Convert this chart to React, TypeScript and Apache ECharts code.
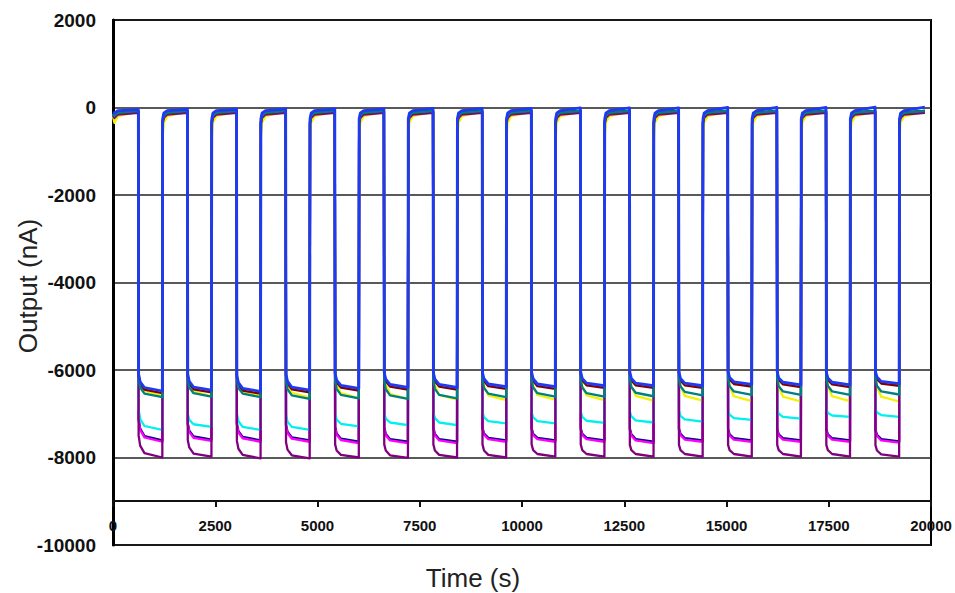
import React, { useEffect, useRef } from 'react';
import * as echarts from 'echarts';

// ---------- data ----------
const X_MIN = 0;
const X_MAX = 20000;
const Y_MIN = -10000;
const Y_MAX = 2000;

// times (s) at which the output drops / rises in each of the 16 cycles
const DROP_TIMES = [619, 1820, 3021, 4222, 5423, 6624, 7825, 9026, 10227, 11428, 12629, 13830, 15031, 16232, 17433, 18634];
const RISE_TIMES = [1206, 2407, 3608, 4809, 6010, 7211, 8412, 9613, 10814, 12015, 13216, 14417, 15618, 16819, 18020, 19221];
const END_TIME = 19850;

// time offsets (s) of the read points inside each phase
const LOW_OFFSETS = [8, 45, 150];
const HIGH_OFFSETS = [8, 35, 120];

const SERIES_NAMES = ['Series 1', 'Series 2', 'Series 3', 'Series 4', 'Series 5', 'Series 6', 'Series 7', 'Series 8'];
const SERIES_COLORS = ['#000080', '#ff00ff', '#f2f200', '#00f0f0', '#800080', '#800000', '#008080', '#1f3af2'];

// value at t = 0
const INIT_VALUES = [-150, -170, -200, -150, -180, -140, -140, -110];
// high phase: [just after rise, ~35 s later, ~120 s later, before next drop]
const HIGH_NAVY = [-330, -190, -120, -80];
const HIGH_MAGENTA = [-360, -220, -150, -110];
const HIGH_YELLOW = [-700, -350, -200, -100];
const HIGH_CYAN = [-340, -200, -130, -90];
const HIGH_PURPLE = [-380, -240, -160, -120];
const HIGH_DARKRED = [-320, -180, -120, -80];
const HIGH_TEAL = [-330, -190, -120, -80];
const HIGH_BLUE = [-260, -130, -70, -30];
const BLUE_HIGH_END = [-50, -40, -40, -30, -30, -30, -20, -20, -20, -10, -10, -10, 0, 0, 0, 10, 10];

// low phase per cycle: just after drop, ~45 s, ~150 s after drop, just before rise
const NAVY_LOW_START = [-7120, -7220, -7220, -7250, -7290, -7310, -7320, -7320, -7330, -7330, -7340, -7340, -7350, -7350, -7350, -7360];
const NAVY_LOW_EARLY = [-7340, -7390, -7400, -7410, -7450, -7460, -7460, -7450, -7460, -7460, -7470, -7460, -7470, -7470, -7470, -7480];
const NAVY_LOW_MID = [-7510, -7520, -7530, -7540, -7570, -7580, -7580, -7550, -7550, -7550, -7580, -7560, -7560, -7560, -7560, -7580];
const NAVY_LOW_END = [-7610, -7590, -7610, -7610, -7640, -7640, -7640, -7610, -7610, -7610, -7640, -7610, -7610, -7610, -7610, -7630];

const MAGENTA_LOW_START = [-7150, -7250, -7250, -7280, -7320, -7340, -7350, -7350, -7360, -7360, -7370, -7370, -7380, -7380, -7380, -7390];
const MAGENTA_LOW_EARLY = [-7370, -7420, -7430, -7440, -7480, -7490, -7490, -7480, -7490, -7490, -7500, -7490, -7500, -7500, -7500, -7510];
const MAGENTA_LOW_MID = [-7540, -7550, -7560, -7570, -7600, -7610, -7610, -7580, -7580, -7580, -7610, -7590, -7590, -7590, -7590, -7610];
const MAGENTA_LOW_END = [-7640, -7620, -7640, -7640, -7670, -7670, -7670, -7640, -7640, -7640, -7670, -7640, -7640, -7640, -7640, -7660];

const YELLOW_LOW_START = [-6050, -6050, -6060, -6060, -6070, -6080, -6080, -6090, -6090, -6090, -6100, -6100, -6100, -6110, -6110, -6110];
const YELLOW_LOW_EARLY = [-6290, -6300, -6300, -6320, -6330, -6340, -6350, -6360, -6360, -6360, -6370, -6370, -6380, -6390, -6380, -6390];
const YELLOW_LOW_MID = [-6480, -6490, -6490, -6520, -6530, -6550, -6570, -6580, -6570, -6580, -6590, -6590, -6600, -6610, -6600, -6610];
const YELLOW_LOW_END = [-6590, -6600, -6600, -6630, -6640, -6660, -6680, -6690, -6680, -6690, -6700, -6700, -6710, -6720, -6710, -6720];

const CYAN_LOW_START = [-6910, -7000, -7000, -7020, -6990, -6980, -6970, -6960, -6960, -6950, -6950, -6940, -6930, -6920, -6900, -6890];
const CYAN_LOW_EARLY = [-7120, -7140, -7170, -7180, -7130, -7110, -7100, -7080, -7080, -7070, -7060, -7050, -7020, -7000, -6980, -6970];
const CYAN_LOW_MID = [-7280, -7240, -7300, -7300, -7230, -7200, -7200, -7170, -7170, -7160, -7150, -7130, -7100, -7070, -7040, -7030];
const CYAN_LOW_END = [-7370, -7300, -7370, -7370, -7290, -7260, -7260, -7220, -7220, -7210, -7200, -7180, -7140, -7110, -7070, -7070];

const PURPLE_LOW_START = [-7500, -7600, -7620, -7650, -7700, -7700, -7700, -7700, -7700, -7700, -7710, -7710, -7710, -7710, -7710, -7720];
const PURPLE_LOW_EARLY = [-7730, -7770, -7800, -7820, -7840, -7840, -7840, -7840, -7830, -7830, -7830, -7830, -7830, -7830, -7830, -7840];
const PURPLE_LOW_MID = [-7900, -7910, -7940, -7950, -7940, -7950, -7940, -7940, -7920, -7920, -7920, -7920, -7920, -7920, -7920, -7930];
const PURPLE_LOW_END = [-8000, -7980, -8020, -8020, -8000, -8010, -8000, -8000, -7980, -7980, -7980, -7980, -7980, -7980, -7980, -7980];

const DARKRED_LOW_START = [-6150, -6150, -6170, -6150, -6130, -6110, -6110, -6110, -6100, -6100, -6100, -6100, -6090, -6090, -6100, -6090];
const DARKRED_LOW_EARLY = [-6320, -6310, -6340, -6310, -6280, -6260, -6260, -6250, -6250, -6240, -6240, -6240, -6220, -6230, -6230, -6210];
const DARKRED_LOW_MID = [-6450, -6440, -6470, -6440, -6400, -6380, -6380, -6370, -6370, -6350, -6350, -6350, -6320, -6330, -6330, -6310];
const DARKRED_LOW_END = [-6530, -6510, -6540, -6510, -6470, -6450, -6450, -6430, -6430, -6410, -6410, -6410, -6380, -6390, -6390, -6360];

const TEAL_LOW_START = [-6220, -6220, -6230, -6250, -6250, -6250, -6240, -6230, -6220, -6220, -6210, -6200, -6200, -6200, -6190, -6190];
const TEAL_LOW_EARLY = [-6400, -6400, -6410, -6440, -6430, -6440, -6430, -6410, -6400, -6400, -6390, -6370, -6370, -6370, -6360, -6360];
const TEAL_LOW_MID = [-6540, -6530, -6540, -6580, -6570, -6580, -6570, -6540, -6530, -6530, -6520, -6500, -6490, -6490, -6490, -6490];
const TEAL_LOW_END = [-6620, -6610, -6620, -6660, -6650, -6660, -6650, -6620, -6610, -6610, -6600, -6580, -6570, -6570, -6570, -6560];

const BLUE_LOW_START = [-6100, -6100, -6120, -6100, -6080, -6060, -6060, -6060, -6050, -6050, -6050, -6050, -6040, -6040, -6050, -6040];
const BLUE_LOW_EARLY = [-6270, -6260, -6290, -6260, -6230, -6210, -6210, -6200, -6200, -6190, -6190, -6190, -6170, -6180, -6180, -6160];
const BLUE_LOW_MID = [-6400, -6390, -6420, -6390, -6350, -6330, -6330, -6320, -6320, -6300, -6300, -6300, -6270, -6280, -6280, -6260];
const BLUE_LOW_END = [-6480, -6460, -6490, -6460, -6420, -6400, -6400, -6380, -6380, -6360, -6360, -6360, -6330, -6340, -6340, -6310];

// ---------- build the polylines from the arrays ----------
function buildPoints(
  init: number,
  lowStart: number[],
  lowEarly: number[],
  lowMid: number[],
  lowEnd: number[],
  high: number[],
  highEnds?: number[]
): [number, number][] {
  const pts: [number, number][] = [];
  pts.push([0, init]);
  pts.push([HIGH_OFFSETS[1], high[1]]);
  pts.push([HIGH_OFFSETS[2], high[2]]);
  for (let k = 0; k < DROP_TIMES.length; k++) {
    const he = highEnds ? highEnds[k] : high[3];
    pts.push([DROP_TIMES[k], he]);
    pts.push([DROP_TIMES[k] + LOW_OFFSETS[0], lowStart[k]]);
    pts.push([DROP_TIMES[k] + LOW_OFFSETS[1], lowEarly[k]]);
    pts.push([DROP_TIMES[k] + LOW_OFFSETS[2], lowMid[k]]);
    pts.push([RISE_TIMES[k], lowEnd[k]]);
    pts.push([RISE_TIMES[k] + HIGH_OFFSETS[0], high[0]]);
    pts.push([RISE_TIMES[k] + HIGH_OFFSETS[1], high[1]]);
    pts.push([RISE_TIMES[k] + HIGH_OFFSETS[2], high[2]]);
  }
  pts.push([END_TIME, highEnds ? highEnds[DROP_TIMES.length] : high[3]]);
  return pts;
}

const SERIES_POINTS = [
  buildPoints(INIT_VALUES[0], NAVY_LOW_START, NAVY_LOW_EARLY, NAVY_LOW_MID, NAVY_LOW_END, HIGH_NAVY),
  buildPoints(INIT_VALUES[1], MAGENTA_LOW_START, MAGENTA_LOW_EARLY, MAGENTA_LOW_MID, MAGENTA_LOW_END, HIGH_MAGENTA),
  buildPoints(INIT_VALUES[2], YELLOW_LOW_START, YELLOW_LOW_EARLY, YELLOW_LOW_MID, YELLOW_LOW_END, HIGH_YELLOW),
  buildPoints(INIT_VALUES[3], CYAN_LOW_START, CYAN_LOW_EARLY, CYAN_LOW_MID, CYAN_LOW_END, HIGH_CYAN),
  buildPoints(INIT_VALUES[4], PURPLE_LOW_START, PURPLE_LOW_EARLY, PURPLE_LOW_MID, PURPLE_LOW_END, HIGH_PURPLE),
  buildPoints(INIT_VALUES[5], DARKRED_LOW_START, DARKRED_LOW_EARLY, DARKRED_LOW_MID, DARKRED_LOW_END, HIGH_DARKRED),
  buildPoints(INIT_VALUES[6], TEAL_LOW_START, TEAL_LOW_EARLY, TEAL_LOW_MID, TEAL_LOW_END, HIGH_TEAL),
  buildPoints(INIT_VALUES[7], BLUE_LOW_START, BLUE_LOW_EARLY, BLUE_LOW_MID, BLUE_LOW_END, HIGH_BLUE, BLUE_HIGH_END),
];

const FONT = '"Liberation Sans", Arial, Helvetica, sans-serif';

export default function App() {
  const ref = useRef<HTMLDivElement>(null);

  useEffect(() => {
    document.body.style.margin = '0';
    if (!ref.current) return;
    const chart = echarts.init(ref.current, undefined, { renderer: 'svg' });

    const series = SERIES_POINTS.map((pts, i) => ({
      name: SERIES_NAMES[i],
      type: 'line',
      data: pts,
      showSymbol: false,
      symbol: 'none',
      silent: true,
      clip: true,
      z: 2 + i,
      lineStyle: { color: SERIES_COLORS[i], width: i === 7 ? 2.8 : 2.3, join: 'round' },
      itemStyle: { color: SERIES_COLORS[i] },
    }));

    chart.setOption({
      animation: false,
      backgroundColor: '#ffffff',
      grid: {
        left: 113,
        right: 24,
        top: 20,
        bottom: 48,
        show: true,
        borderColor: '#000',
        borderWidth: 2,
      },
      xAxis: {
        type: 'value',
        min: X_MIN,
        max: X_MAX,
        interval: 2500,
        offset: -44,
        axisLine: { show: true, onZero: false, lineStyle: { color: '#111', width: 2 } },
        axisTick: { show: true, length: 6, lineStyle: { color: '#111', width: 2 } },
        axisLabel: {
          color: '#111',
          fontSize: 15,
          fontWeight: 'bold',
          fontFamily: FONT,
          margin: 17,
          formatter: (v: number) => String(v),
        },
        splitLine: { show: false },
      },
      yAxis: {
        type: 'value',
        min: Y_MIN,
        max: Y_MAX,
        interval: 2000,
        axisLine: { show: true, onZero: false, lineStyle: { color: '#000', width: 3 } },
        axisTick: { show: false },
        axisLabel: {
          color: '#111',
          fontSize: 19,
          fontWeight: 'bold',
          fontFamily: FONT,
          margin: 17,
          formatter: (v: number) => String(v),
        },
        splitLine: { show: true, lineStyle: { color: '#222', width: 1.5 } },
      },
      graphic: [
        {
          type: 'text',
          x: 473,
          y: 578,
          style: {
            text: 'Time (s)',
            fontSize: 26,
            fontFamily: FONT,
            fill: '#222',
            textAlign: 'center',
            textVerticalAlign: 'middle',
          },
        },
        {
          type: 'text',
          x: 28,
          y: 286,
          rotation: Math.PI / 2,
          style: {
            text: 'Output (nA)',
            fontSize: 26,
            fontFamily: FONT,
            fill: '#222',
            textAlign: 'center',
            textVerticalAlign: 'middle',
          },
        },
      ],
      series,
    });

    return () => {
      chart.dispose();
    };
  }, []);

  return <div ref={ref} style={{ width: 955, height: 593 }} />;
}
